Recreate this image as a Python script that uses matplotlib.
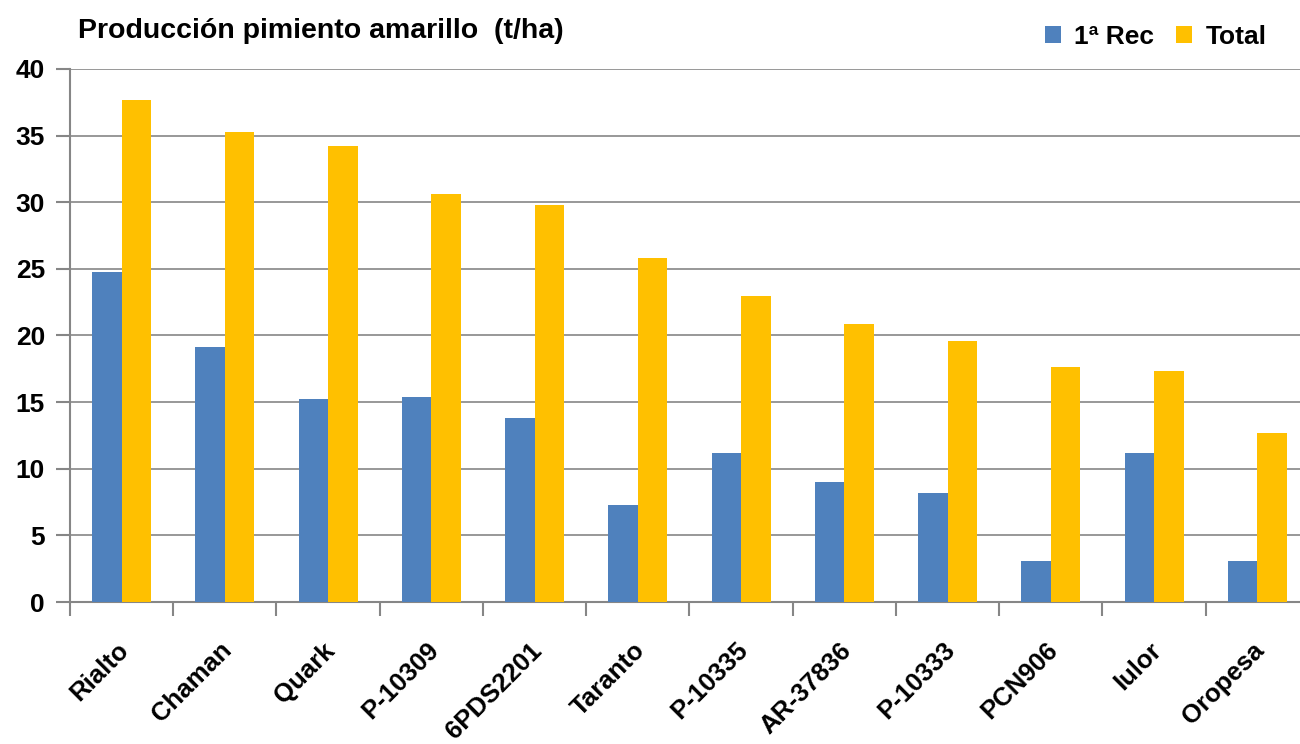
import matplotlib.pyplot as plt
import numpy as np

plt.rcParams['font.family'] = ['Liberation Sans', 'DejaVu Sans']
plt.rcParams['font.weight'] = 'bold'

variedades = ["Rialto", "Chaman", "Quark", "P-10309", "6PDS2201", "Taranto",
              "P-10335", "AR-37836", "P-10333", "PCN906", "Iulor", "Oropesa"]
rec1 = [24.8, 19.1, 15.2, 15.4, 13.8, 7.3, 11.2, 9.0, 8.2, 3.1, 11.2, 3.1]
total = [37.7, 35.3, 34.2, 30.6, 29.8, 25.8, 23.0, 20.9, 19.6, 17.6, 17.3, 12.7]

fig = plt.figure(figsize=(13, 7.44), dpi=100)
ax = fig.add_axes([70 / 1300, 1 - 602 / 744, 1239 / 1300, 533 / 744])

x = np.arange(len(variedades))
w = 0.285
ax.bar(x - w / 2, rec1, w, color='#4F81BD', label='1ª Rec', zorder=3)
ax.bar(x + w / 2, total, w, color='#FFC000', label='Total', zorder=3)

ax.set_xlim(-0.5, len(variedades) - 0.5)
ax.set_ylim(0, 40)
ax.set_yticks(range(0, 41, 5))
ax.grid(axis='y', color='#868686', lw=1.2, zorder=0)

for s in ['top', 'right']:
    ax.spines[s].set_visible(False)
for s in ['left', 'bottom']:
    ax.spines[s].set_color('#868686')
    ax.spines[s].set_linewidth(1.5)

# category boundaries carry the tick marks, labels sit on the centres
ax.set_xticks(np.arange(len(variedades) + 1) - 0.5, minor=True)
ax.set_xticks(x - 0.05)
ax.set_xticklabels(variedades, rotation=45, ha='right', rotation_mode='anchor',
                   fontsize=18.5, fontweight='bold')
ax.tick_params(axis='x', which='major', length=0, pad=26)
ax.tick_params(axis='x', which='minor', length=10, width=1.5, color='#868686')
ax.tick_params(axis='y', length=10, width=1.5, color='#868686', labelsize=19, pad=8)
for lb in ax.get_yticklabels():
    lb.set_fontweight('bold')

fig.text(78 / 1300, 1 - 31 / 744, "Producción pimiento amarillo  (t/ha)",
         fontsize=20.5, fontweight='bold', va='center', ha='left')

ax.legend(loc='upper right', bbox_to_anchor=(1290 / 1300, 1 - 1 / 744),
          bbox_transform=fig.transFigure, ncol=2, frameon=False,
          handlelength=0.6, handleheight=0.6, handletextpad=0.5,
          columnspacing=0.85, prop={'weight': 'bold', 'size': 19})

fig.savefig('out.png', dpi=100)
